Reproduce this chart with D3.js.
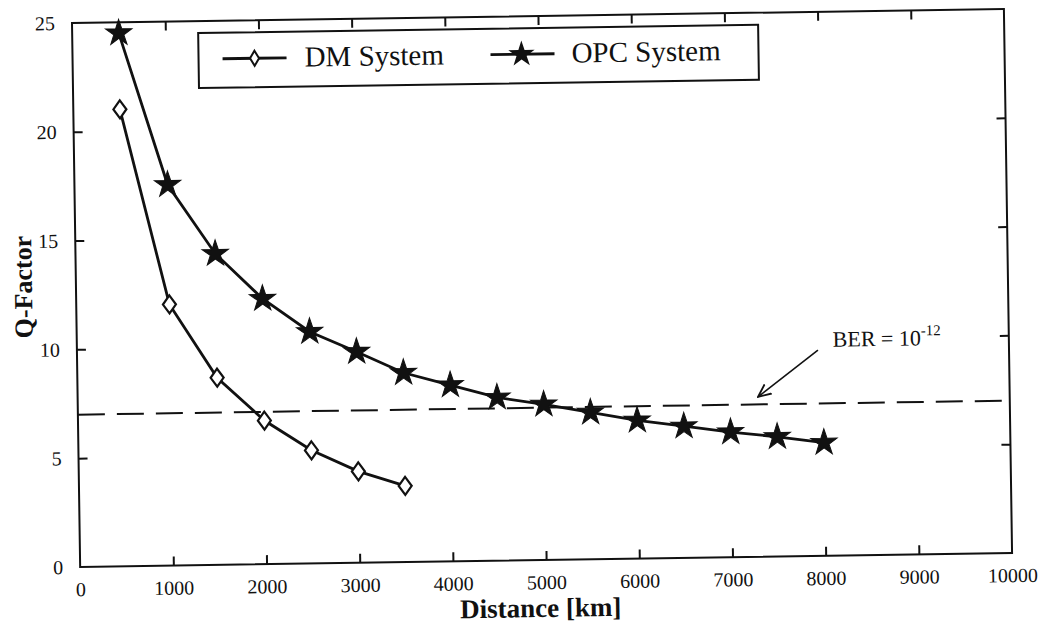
<!DOCTYPE html>
<html>
<head>
<meta charset="utf-8">
<script src="https://cdn.jsdelivr.net/npm/d3@7"></script>
<style>
  html, body { margin: 0; padding: 0; background: #fff; }
  svg { display: block; }
  text { font-family: "Liberation Serif", "Times New Roman", serif; fill: #111; }
</style>
</head>
<body>
<svg id="chart" width="1046" height="626"></svg>
<script>
// ---- data ----
const dmDistance  = [500, 1000, 1500, 2000, 2500, 3000, 3500];
const dmQ         = [21.0, 12.0, 8.6, 6.6, 5.2, 4.2, 3.5];
const opcDistance = [500, 1000, 1500, 2000, 2500, 3000, 3500, 4000, 4500, 5000, 5500, 6000, 6500, 7000, 7500, 8000];
const opcQ        = [24.5, 17.5, 14.3, 12.2, 10.65, 9.7, 8.7, 8.1, 7.5, 7.15, 6.75, 6.35, 6.05, 5.75, 5.5, 5.2];
const berQ = 7;
const xTicks = [0, 1000, 2000, 3000, 4000, 5000, 6000, 7000, 8000, 9000, 10000];
const yTicks = [0, 5, 10, 15, 20, 25];
const seriesNames = ["DM System", "OPC System"];
const xTitle = "Distance [km]";
const yTitle = "Q-Factor";
const berLabel = "BER = 10";
const berExp = "-12";
const arrowFrom = [7950, 9.45];
const arrowTo = [7300, 7.35];
const berTextAt = [8110, 9.6];

(function () {
// ---- layout ----
const L = 72, T = 23, W = 932, H = 544;
const svg = d3.select("#chart");
const root = svg.append("g").attr("transform", `rotate(-0.86, ${L}, ${T})`);

const x = d3.scaleLinear().domain([0, 10000]).range([L, L + W]);
const y = d3.scaleLinear().domain([0, 25]).range([T + H, T]);

const ink = "#111";

// frame
root.append("rect").attr("x", L).attr("y", T).attr("width", W).attr("height", H)
  .attr("fill", "none").attr("stroke", ink).attr("stroke-width", 2);

// axes (inward ticks)
const tickLen = 9;
const axB = root.append("g").attr("transform", `translate(0,${T + H})`)
  .call(d3.axisBottom(x).tickValues(xTicks).tickSizeInner(-tickLen).tickSizeOuter(0).tickPadding(tickLen + 6).tickFormat(d3.format("d")));
const axL = root.append("g").attr("transform", `translate(${L},0)`)
  .call(d3.axisLeft(y).tickValues(yTicks).tickSizeInner(-tickLen).tickSizeOuter(0).tickPadding(tickLen + 8).tickFormat(d3.format("d")));
const axT = root.append("g").attr("transform", `translate(0,${T})`)
  .call(d3.axisTop(x).tickValues(xTicks).tickSizeInner(-tickLen).tickSizeOuter(0).tickFormat(""));
const axR = root.append("g").attr("transform", `translate(${L + W},0)`)
  .call(d3.axisRight(y).tickValues(yTicks).tickSizeInner(-tickLen).tickSizeOuter(0).tickFormat(""));

[axB, axL, axT, axR].forEach(g => {
  g.select(".domain").remove();
  g.selectAll(".tick line").attr("stroke", ink).attr("stroke-width", 2);
  g.selectAll(".tick text").attr("font-size", 20).attr("font-family", "Liberation Serif, serif").attr("fill", ink);
});
axB.selectAll(".tick").filter(d => d === 0 || d === 10000).select("line").remove();
axT.selectAll(".tick").filter(d => d === 0 || d === 10000).select("line").remove();
axL.selectAll(".tick").filter(d => d === 0 || d === 25).select("line").remove();
axR.selectAll(".tick").filter(d => d === 0 || d === 25).select("line").remove();

// axis titles
root.append("text").attr("x", x(5000) - 6).attr("y", T + H + 57)
  .attr("text-anchor", "middle").attr("font-size", 27).attr("font-weight", "bold").text(xTitle);
root.append("text").attr("transform", `translate(${L - 44},${y(12.9)}) rotate(-90)`)
  .attr("text-anchor", "middle").attr("font-size", 26).attr("font-weight", "bold").text(yTitle);

// BER dashed line
root.append("line").attr("x1", x(0)).attr("x2", x(10000)).attr("y1", y(berQ)).attr("y2", y(berQ))
  .attr("stroke", ink).attr("stroke-width", 2).attr("stroke-dasharray", "27,12");

// series lines
const line = d3.line().x(d => x(d[0])).y(d => y(d[1]));
const dmData = dmDistance.map((d, i) => [d, dmQ[i]]);
const opcData = opcDistance.map((d, i) => [d, opcQ[i]]);
root.append("path").datum(dmData).attr("d", line).attr("fill", "none").attr("stroke", ink).attr("stroke-width", 2.8);
root.append("path").datum(opcData).attr("d", line).attr("fill", "none").attr("stroke", ink).attr("stroke-width", 2.8);

// markers
const diamond = (w, h) => `M0,${-h/2}L${w/2},0L0,${h/2}L${-w/2},0Z`;
root.selectAll(".dm").data(dmData).enter().append("path")
  .attr("transform", d => `translate(${x(d[0])},${y(d[1])})`)
  .attr("d", diamond(13, 18)).attr("fill", "#fff").attr("stroke", ink).attr("stroke-width", 2.2);
const star = d3.symbol().type(d3.symbolStar).size(215);
root.selectAll(".opc").data(opcData).enter().append("path")
  .attr("transform", d => `translate(${x(d[0])},${y(d[1])})`)
  .attr("d", star).attr("fill", ink).attr("stroke", ink).attr("stroke-width", 1);

// BER annotation
root.append("defs").append("marker").attr("id", "arr").attr("viewBox", "0 0 12 12")
  .attr("refX", 11).attr("refY", 6).attr("markerWidth", 14).attr("markerHeight", 14)
  .attr("markerUnits", "userSpaceOnUse").attr("orient", "auto")
  .append("path").attr("d", "M0,1L11,6L0,11").attr("fill", "none").attr("stroke", ink).attr("stroke-width", 1.6);
root.append("line").attr("x1", x(arrowFrom[0])).attr("y1", y(arrowFrom[1]))
  .attr("x2", x(arrowTo[0])).attr("y2", y(arrowTo[1]))
  .attr("stroke", ink).attr("stroke-width", 1.6).attr("marker-end", "url(#arr)");
const bt = root.append("text").attr("x", x(berTextAt[0])).attr("y", y(berTextAt[1])).attr("font-size", 22);
bt.append("tspan").text(berLabel);
bt.append("tspan").attr("dy", -10).attr("font-size", 15).text(berExp);

// legend
const lg = root.append("g");
lg.append("rect").attr("x", 198).attr("y", 35).attr("width", 560).attr("height", 55)
  .attr("fill", "#fff").attr("stroke", ink).attr("stroke-width", 2);
const ly = 61;
lg.append("line").attr("x1", 222).attr("x2", 286).attr("y1", ly).attr("y2", ly).attr("stroke", ink).attr("stroke-width", 2.8);
lg.append("path").attr("transform", `translate(254,${ly})`).attr("d", diamond(9, 15)).attr("fill", "#fff").attr("stroke", ink).attr("stroke-width", 2);
lg.append("text").attr("x", 304).attr("y", ly + 9).attr("font-size", 29).text(seriesNames[0]);
lg.append("line").attr("x1", 490).attr("x2", 554).attr("y1", ly).attr("y2", ly).attr("stroke", ink).attr("stroke-width", 2.8);
lg.append("path").attr("transform", `translate(521,${ly})`).attr("d", star).attr("fill", ink);
lg.append("text").attr("x", 571).attr("y", ly + 9).attr("font-size", 29).text(seriesNames[1]);
})();
</script>
</body>
</html>
